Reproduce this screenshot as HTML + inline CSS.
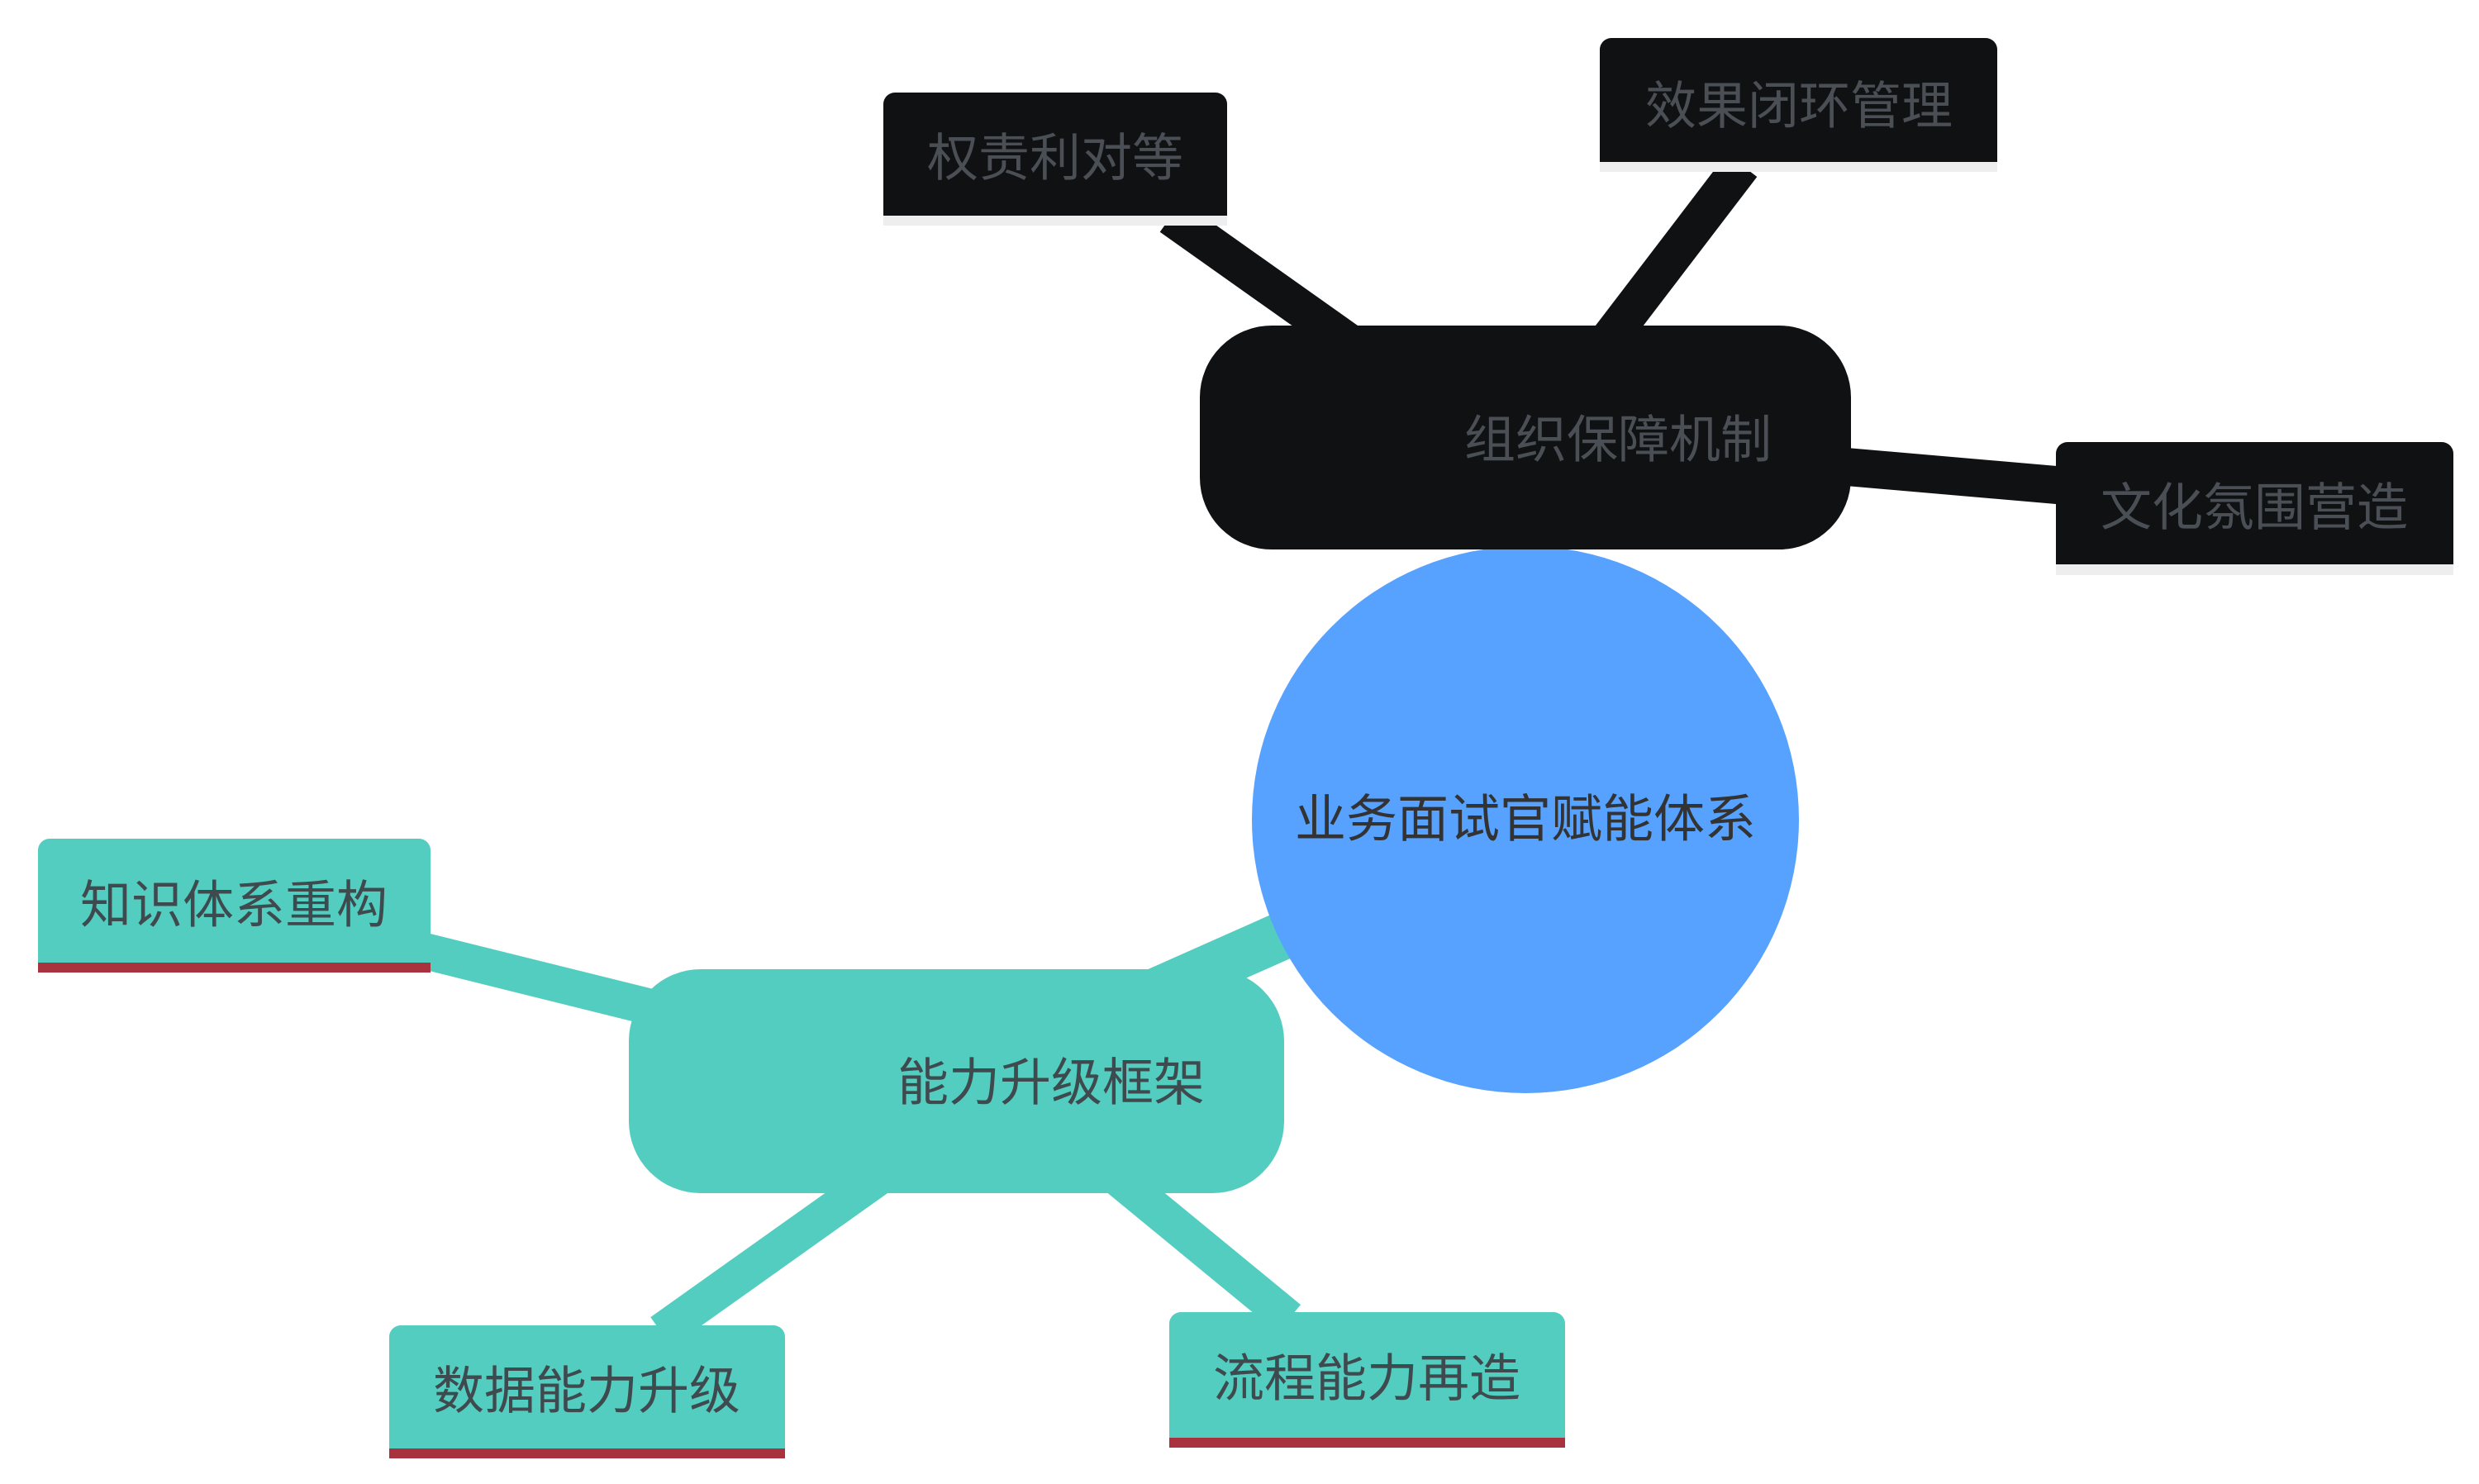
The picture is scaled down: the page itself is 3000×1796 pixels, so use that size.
<!DOCTYPE html>
<html><head><meta charset="utf-8"><style>
html,body{margin:0;padding:0;background:#fff;width:3000px;height:1796px;overflow:hidden}
svg text{font-family:"Liberation Sans","Noto Sans CJK SC",sans-serif;font-size:62px;text-anchor:middle;dominant-baseline:central}
</style></head><body>
<svg width="3000" height="1796" viewBox="0 0 3000 1796" xmlns="http://www.w3.org/2000/svg">
<g stroke="#101113" stroke-width="46" fill="none">
<line x1="1417" y1="262" x2="1640" y2="420"/>
<line x1="2108" y1="200" x2="1940" y2="420"/>
<line x1="2200" y1="562" x2="2500" y2="588"/>
</g>
<g stroke="#53cdc0" fill="none">
<line x1="1580" y1="1120" x2="1400" y2="1200" stroke-width="58"/>
<line x1="510" y1="1150" x2="800" y2="1222" stroke-width="44"/>
<line x1="800" y1="1612" x2="1070" y2="1420" stroke-width="44"/>
<line x1="1346" y1="1420" x2="1560" y2="1596" stroke-width="44"/>
</g>
<circle cx="1846" cy="992" r="331" fill="#57a1ff"/>
<text x="1846" y="992" fill="#333">业务面试官赋能体系</text>
<rect x="1452" y="394" width="788" height="271" rx="87" fill="#101113"/>
<text x="1958" y="533" fill="#4a4f55">组织保障机制</text>
<rect x="1069" y="261" width="416" height="12" fill="#eeeeee"/>
<rect x="1069" y="112" width="416" height="149" rx="14" fill="#101113"/>
<rect x="1069" y="200" width="416" height="61" fill="#101113"/>
<text x="1277" y="192" fill="#4a4f55">权责利对等</text>
<rect x="1936" y="196" width="481" height="12" fill="#eeeeee"/>
<rect x="1936" y="46" width="481" height="150" rx="14" fill="#101113"/>
<rect x="1936" y="130" width="481" height="66" fill="#101113"/>
<text x="2177" y="129" fill="#4a4f55">效果闭环管理</text>
<rect x="2488" y="683" width="481" height="13" fill="#eeeeee"/>
<rect x="2488" y="535" width="481" height="148" rx="14" fill="#101113"/>
<rect x="2488" y="620" width="481" height="63" fill="#101113"/>
<text x="2728" y="615" fill="#4a4f55">文化氛围营造</text>
<rect x="761" y="1173" width="793" height="271" rx="87" fill="#53cdc0"/>
<text x="1272" y="1311" fill="#3f4a4f">能力升级框架</text>
<rect x="46" y="1165" width="475" height="12" fill="#a8323e"/>
<rect x="46" y="1015" width="475" height="150" rx="14" fill="#53cdc0"/>
<rect x="46" y="1100" width="475" height="65" fill="#53cdc0"/>
<text x="283" y="1096" fill="#3f4a4f">知识体系重构</text>
<rect x="471" y="1753" width="479" height="12" fill="#a8323e"/>
<rect x="471" y="1604" width="479" height="149" rx="14" fill="#53cdc0"/>
<rect x="471" y="1690" width="479" height="63" fill="#53cdc0"/>
<text x="710" y="1684" fill="#3f4a4f">数据能力升级</text>
<rect x="1415" y="1740" width="479" height="12" fill="#a8323e"/>
<rect x="1415" y="1588" width="479" height="152" rx="14" fill="#53cdc0"/>
<rect x="1415" y="1670" width="479" height="70" fill="#53cdc0"/>
<text x="1654" y="1669" fill="#3f4a4f">流程能力再造</text>
</svg>
</body></html>
